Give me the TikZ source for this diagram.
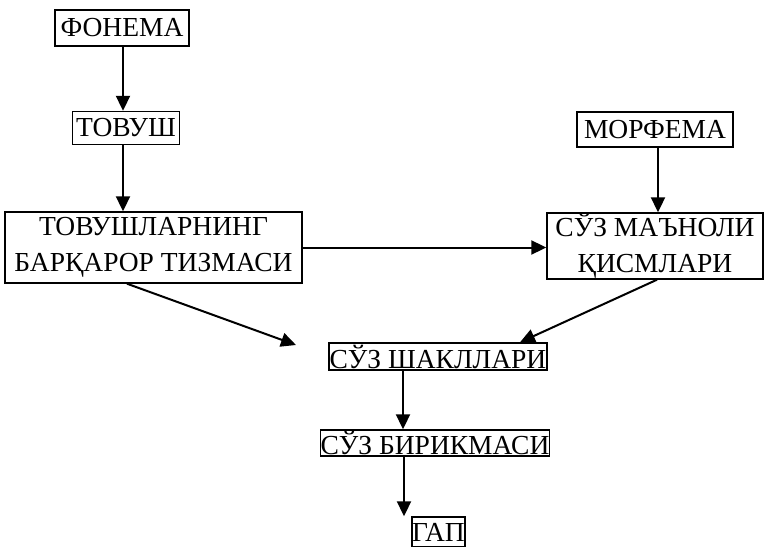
\documentclass[tikz,border=0pt]{standalone}
\usepackage{fontspec}
\setmainfont{Liberation Serif}
\usetikzlibrary{arrows.meta,calc}
\begin{document}
\begin{tikzpicture}[x=1pt,y=-1pt,
  box/.style={draw,line width=1.4pt,inner sep=0pt,font=\fontsize{27.5}{36}\selectfont,align=center},
  arr/.style={line width=2pt,-{Triangle[length=15pt,width=14pt]}}]
\useasboundingbox (0,0) rectangle (765,546);
\node[box,minimum width=134pt,minimum height=36pt] (fon) at (122,28) {ФОНЕМА};
\node[box,minimum width=107pt,minimum height=33pt] (tov) at (126,128) {ТОВУШ};
\node[box,minimum width=297pt,minimum height=71pt] (tiz) at (153.5,247.5) {ТОВУШЛАРНИНГ\\БАРҚАРОР ТИЗМАСИ};
\node[box,minimum width=156pt,minimum height=35pt] (mor) at (655,129.5) {МОРФЕМА};
\node[box,minimum width=216pt,minimum height=66pt] (maz) at (655,246) {СЎЗ МАЪНОЛИ\\ҚИСМЛАРИ};
\node[box,minimum width=218pt,minimum height=27pt] (sha) at (438,356.5) {СЎЗ ШАКЛЛАРИ};
\node[box,minimum width=224pt,minimum height=26pt] (bir) at (435,443) {СЎЗ БИРИКМАСИ};
\node[box,minimum width=53pt,minimum height=30pt] (gap) at (438.5,532) {ГАП};
\coordinate (free) at (296,345);
\draw[arr] (fon.south -| 123,0) -- (tov.north -| 123,0);
\draw[arr] (tov.south -| 123,0) -- (tiz.north -| 123,0);
\draw[arr] (tiz.east) -- (maz.west |- tiz.east);
\draw[arr] (mor.south -| 658,0) -- (maz.north -| 658,0);
\draw[arr] (maz.south -| 657,0) -- (sha.north -| 520,0);
\draw[arr] (tiz.south -| 127,0) -- (free);
\draw[arr] (sha.south -| 403,0) -- (bir.north -| 403,0);
\draw[arr] (bir.south -| 404,0) -- (gap.north -| 404,0);
\end{tikzpicture}
\end{document}
